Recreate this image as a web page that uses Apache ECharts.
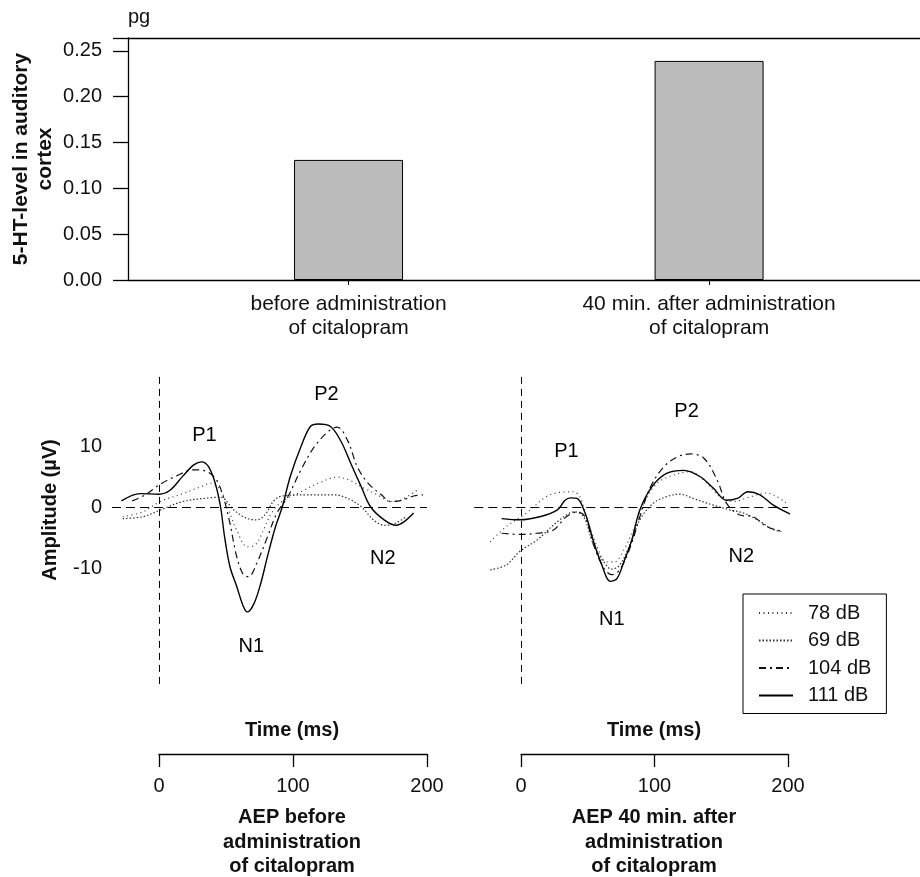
<!DOCTYPE html>
<html>
<head>
<meta charset="utf-8">
<script src="https://cdn.jsdelivr.net/npm/echarts@6/dist/echarts.min.js"></script>
<style>
  html, body { margin: 0; padding: 0; background: #fff; }
  #main { width: 920px; height: 877px; }
</style>
</head>
<body>
<div id="main"></div>
<script>
// bar chart data
var barCategories = ['before administration\nof citalopram', '40 min. after administration\nof citalopram'];
var barValues = [0.131, 0.239];
var barTicks = [0, 0.05, 0.10, 0.15, 0.20, 0.25];

// AEP traces, [time ms, amplitude uV]
var before78 = [[-27,-1.6],[-12,-0.8],[1,0.9],[18,2.2],[31,3.3],[39,3.9],[46,2.8],[52,-0.5],[58,-3.8],[66,-6.5],[72,-6.2],[78,-3.8],[84,-1.0],[92,0.9],[106,2.5],[121,4.1],[133,4.9],[143,4.3],[153,3.1],[163,2.0],[173,0.9],[180,1.1],[193,2.8]];
var before69 = [[-27,-1.9],[-12,-1.6],[1,-0.5],[18,0.9],[38,1.5],[46,1.6],[56,-0.5],[66,-1.9],[73,-2.1],[79,-1.3],[86,1.1],[92,1.8],[111,2.0],[131,2.0],[141,1.4],[151,0.05],[160,-2.1],[168,-3.0],[176,-2.7],[185,-1.5]];
var before104 = [[-20,1.0],[-10,2.0],[0,3.6],[13,5.1],[26,6.1],[36,5.8],[43,4.4],[48,1.7],[53,-2.7],[58,-8.1],[63,-11.1],[67,-11.4],[73,-9.2],[81,-4.9],[88,-1.0],[96,1.6],[106,6.1],[116,9.9],[126,12.3],[133,13.1],[141,10.8],[148,6.6],[156,3.9],[166,2.0],[173,0.9],[181,1.1],[190,1.8],[197,2.0]];
var before111 = [[-28,1.0],[-14,2.2],[0,2.1],[8,2.7],[18,5.1],[26,6.9],[32,7.4],[37,6.6],[42,3.9],[46,0],[49,-4.9],[53,-9.8],[58,-13],[63,-16.3],[66,-17.2],[71,-15.8],[76,-12.5],[81,-8.1],[87,-3.2],[92,0],[98,5.0],[106,9.9],[113,13.2],[119,13.6],[128,13.2],[136,10.7],[143,7.2],[151,3.3],[158,0],[168,-2.1],[177,-3.0],[183,-2.4],[190,-1.0]];

var after78 = [[-23,-5.7],[-11,-3.2],[4,-1.0],[19,1.7],[29,2.4],[39,2.5],[44,1.7],[49,-1.6],[57,-6.5],[64,-9.0],[70,-9.0],[77,-7.0],[84,-3.8],[92,0.6],[102,3.9],[114,5.2],[127,5.8],[137,4.4],[149,1.7],[159,0.9],[172,1.7],[184,2.3],[199,0.6]];
var after69 = [[-23,-10.3],[-11,-9.5],[-1,-7.3],[12,-5.4],[29,-2.1],[40,-0.8],[47,-1.6],[54,-6.0],[62,-9.0],[68,-10.2],[74,-9.5],[82,-6.0],[89,-2.1],[99,0.6],[109,1.7],[119,2.1],[129,1.4],[144,0.3],[157,-0.5],[167,-1.0],[177,-2.1],[189,-3.7],[195,-4.0]];
var after104 = [[-14.5,-4.3],[-1,-4.5],[12,-4.3],[24,-3.8],[34,-1.6],[42,-0.8],[48,-1.6],[54,-6.0],[62,-10.0],[68,-11.1],[74,-10.3],[82,-6.5],[89,-1.6],[97,3.3],[107,6.6],[117,8.2],[127,8.7],[137,8.0],[147,4.4],[154,0.6],[164,-1.3],[174,-1.6],[184,-3.2],[194,-3.9]];
var after111 = [[-14.5,-1.9],[-1,-2.1],[14,-1.6],[27,-0.5],[33,1.1],[37,1.5],[42,1.4],[48,-1.0],[54,-5.4],[60,-9.2],[67,-12.2],[72,-11.7],[77,-9.0],[83,-5.4],[89,-0.5],[98,3.3],[109,5.5],[122,6.0],[134,5.0],[144,3.1],[154,1.1],[162,1.4],[170,2.5],[179,2.0],[189,0.3],[203,-1.3]];

// peak labels [name, time, amplitude]
var peaksBefore = [['P1',34,11.8],['P2',125,18.4],['N1',69,-22.9],['N2',167,-8.4]];
var peaksAfter = [['P1',34,9.1],['P2',124,15.6],['N1',68,-18.5],['N2',165,-8.1]];

var ampTicks = [-10, 0, 10];
var levelNames = ['78 dB', '69 dB', '104 dB', '111 dB'];

var FONT = 'Liberation Sans, Arial, Helvetica, sans-serif';
var INK = '#111';

var styles = {
  '78 dB': { color: '#333', width: 1.2, type: [1, 3.5] },
  '69 dB': { color: '#333', width: 1.2, type: [1.5, 2] },
  '104 dB': { color: '#111', width: 1.2, type: [7, 4, 2, 4] },
  '111 dB': { color: '#000', width: 1.4, type: 'solid' }
};

var chart = echarts.init(document.getElementById('main'));

function trace(name, data, xi, yi) {
  return {
    name: name, type: 'line', xAxisIndex: xi, yAxisIndex: yi,
    data: data, smooth: 0.35, symbol: 'none', silent: true,
    color: styles[name].color,
    lineStyle: styles[name]
  };
}

function refLines(xi, yi) {
  return {
    type: 'line', xAxisIndex: xi, yAxisIndex: yi, data: [], silent: true,
    markLine: {
      symbol: 'none', silent: true, label: { show: false },
      data: [
        { xAxis: 0, lineStyle: { color: '#000', width: 1, type: [7, 5] } },
        { yAxis: 0, lineStyle: { color: '#000', width: 1, type: [9, 5] } }
      ]
    }
  };
}

function peakLabels(list, xi, yi) {
  return {
    type: 'scatter', xAxisIndex: xi, yAxisIndex: yi, silent: true,
    symbolSize: 1, itemStyle: { color: 'transparent' },
    data: list.map(function (p) { return { name: p[0], value: [p[1], p[2]] }; }),
    label: { show: true, position: 'inside', formatter: '{b}', fontSize: 20, color: '#000', opacity: 1, fontFamily: FONT }
  };
}

var series = [{
  type: 'bar', xAxisIndex: 0, yAxisIndex: 0, barWidth: 109, silent: true,
  data: barValues.map(function (v, i) { return [i + 1, v]; }),
  itemStyle: { color: '#bbbbbb', borderColor: '#000', borderWidth: 1 }
}];
series.push(refLines(2, 1), refLines(3, 2));
series.push(trace('78 dB', before78, 2, 1), trace('69 dB', before69, 2, 1), trace('104 dB', before104, 2, 1), trace('111 dB', before111, 2, 1));
series.push(trace('78 dB', after78, 3, 2), trace('69 dB', after69, 3, 2), trace('104 dB', after104, 3, 2), trace('111 dB', after111, 3, 2));
series.push(peakLabels(peaksBefore, 2, 1), peakLabels(peaksAfter, 3, 2));

var blackLine = { show: true, lineStyle: { color: '#000', width: 1.3 } };

function timeAxis(gi) {
  return {
    type: 'value', gridIndex: gi, min: 0, max: 200, interval: 100, position: 'bottom',
    axisLine: blackLine, splitLine: { show: false },
    axisTick: { show: true, length: 13, lineStyle: { color: '#000', width: 1.3 } },
    axisLabel: { margin: 22, fontSize: 20, color: INK, fontFamily: FONT }
  };
}

var boldText = { fontSize: 20, fontWeight: 'bold', fill: INK, fontFamily: FONT, align: 'center', verticalAlign: 'middle' };

var option = {
  animation: false,
  backgroundColor: '#fff',
  textStyle: { fontFamily: FONT },
  grid: [
    { left: 128, top: 38, width: 792, height: 242, outerBoundsMode: 'none' },
    { left: 112, top: 372.8, width: 315, height: 311.1, outerBoundsMode: 'none' },
    { left: 474.3, top: 372.8, width: 313.7, height: 311.1, outerBoundsMode: 'none' },
    { left: 159, top: 753, width: 268, height: 1, outerBoundsMode: 'none' },
    { left: 521, top: 753, width: 267, height: 1, outerBoundsMode: 'none' }
  ],
  xAxis: [
    {
      type: 'value', gridIndex: 0, min: 0.3883, max: 2.585, position: 'bottom',
      axisLine: blackLine, splitLine: { show: false },
      axisTick: { show: true, length: 5, customValues: [1, 2], lineStyle: { color: '#000' } },
      axisLabel: {
        customValues: [1, 2], margin: 12, fontSize: 21, lineHeight: 24, color: INK, fontFamily: FONT,
        formatter: function (v) { return barCategories[Math.round(v) - 1] || ''; }
      }
    },
    {
      type: 'value', gridIndex: 0, min: 0.3883, max: 2.585, position: 'top',
      axisLine: blackLine, axisTick: { show: false }, axisLabel: { show: false }, splitLine: { show: false }
    },
    { type: 'value', gridIndex: 1, min: -35, max: 200, show: false },
    { type: 'value', gridIndex: 2, min: -35, max: 200, show: false },
    timeAxis(3),
    timeAxis(4)
  ],
  yAxis: [
    {
      type: 'value', gridIndex: 0, min: 0, max: 0.264, interval: 0.05,
      axisLine: blackLine, splitLine: { show: false },
      axisTick: { show: true, length: 15, lineStyle: { color: '#000', width: 1.3 } },
      axisLabel: {
        customValues: barTicks, margin: 26, fontSize: 20, color: INK, fontFamily: FONT,
        formatter: function (v) { return v.toFixed(2); }
      },
      name: '5-HT-level in auditory\ncortex', nameLocation: 'middle', nameRotate: 90, nameGap: 71,
      nameMoveOverlap: false,
      nameTextStyle: { fontSize: 21, fontWeight: 'bold', lineHeight: 24, color: INK, fontFamily: FONT }
    },
    {
      type: 'value', gridIndex: 1, min: -29, max: 22,
      axisLine: { show: false }, axisTick: { show: false }, splitLine: { show: false },
      axisLabel: { customValues: ampTicks, margin: 10, fontSize: 20, color: INK, fontFamily: FONT }
    },
    { type: 'value', gridIndex: 2, min: -29, max: 22, show: false },
    { type: 'value', gridIndex: 3, min: 0, max: 1, show: false },
    { type: 'value', gridIndex: 4, min: 0, max: 1, show: false }
  ],
  legend: {
    data: levelNames, orient: 'vertical', left: 743, top: 594,
    borderColor: '#000', borderWidth: 1, borderRadius: 0,
    padding: [9, 15, 8, 15], itemWidth: 34, itemHeight: 14, itemGap: 7.5,
    itemStyle: { opacity: 0 },
    textStyle: { fontSize: 20, color: INK, fontFamily: FONT, padding: [0, 0, 0, 10] },
    selectedMode: false
  },
  graphic: [
    { type: 'text', left: 128, top: 7, style: { text: 'pg', fontSize: 20, fill: INK, fontFamily: FONT } },
    { type: 'text', x: 50, y: 510, rotation: Math.PI / 2, style: Object.assign({ text: 'Amplitude (\u00b5V)' }, boldText) },
    { type: 'text', x: 292, y: 730, style: Object.assign({ text: 'Time (ms)' }, boldText) },
    { type: 'text', x: 654, y: 730, style: Object.assign({ text: 'Time (ms)' }, boldText) },
    { type: 'text', x: 292, y: 842, style: Object.assign({ text: 'AEP before\nadministration\nof citalopram', lineHeight: 24.5 }, boldText) },
    { type: 'text', x: 654, y: 842, style: Object.assign({ text: 'AEP 40 min. after\nadministration\nof citalopram', lineHeight: 24.5 }, boldText) }
  ],
  series: series
};

chart.setOption(option);
</script>
</body>
</html>
